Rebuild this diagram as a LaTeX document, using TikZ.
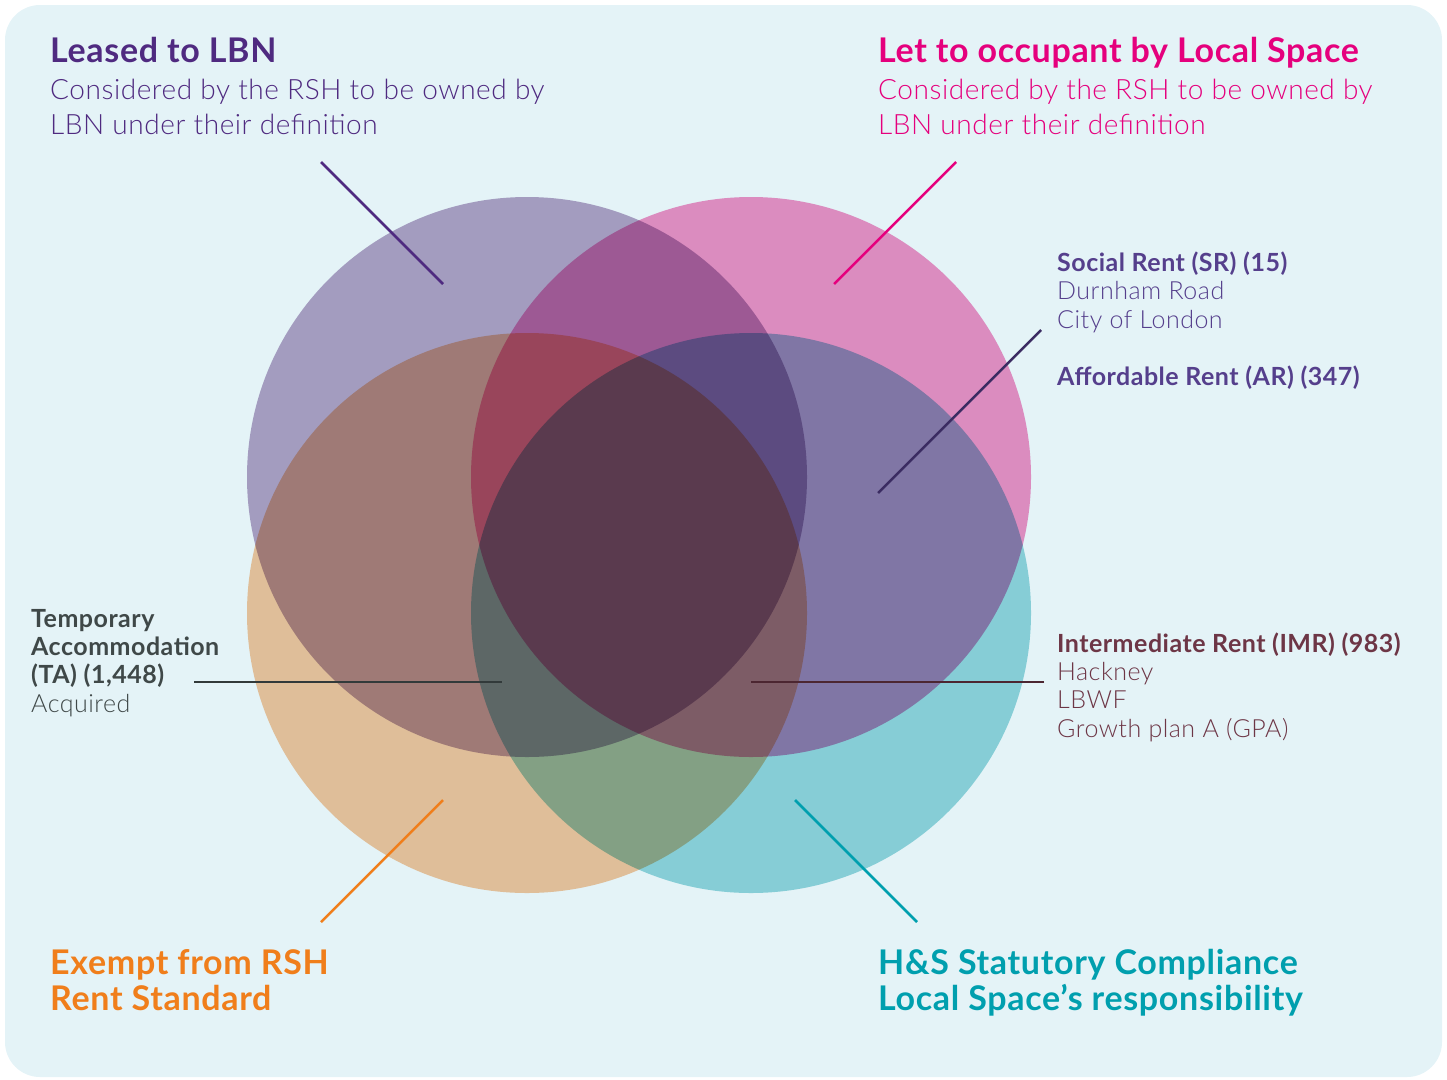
\documentclass[tikz,border=0pt]{standalone}
\usepackage{fontspec}
\setmainfont{Lato}[UprightFont=* Light, BoldFont=* Bold, LetterSpace=2]

\definecolor{bgblue}{HTML}{E4F3F7}
\definecolor{lbnfill}{HTML}{B7A4C6}
\definecolor{lsfill}{HTML}{F693C6}
\definecolor{rshfill}{HTML}{FAC89E}
\definecolor{hsfill}{HTML}{96D8DD}
\definecolor{lbnpurple}{HTML}{4F2A80}
\definecolor{lspink}{HTML}{E5007D}
\definecolor{srpurple}{HTML}{553F8C}
\definecolor{tagrey}{HTML}{3F4848}
\definecolor{imrred}{HTML}{6D3646}
\definecolor{rshorange}{HTML}{F07E1B}
\definecolor{hsteal}{HTML}{009FAE}

\begin{document}
\begin{tikzpicture}[x=1pt,y=-1pt,
    set/.style={circle,minimum size=560pt,inner sep=0pt,blend mode=multiply},
    txt/.style={anchor=base west,inner sep=0pt,align=left},
    head/.style={txt,font=\fontsize{34}{35.5}\selectfont\bfseries},
    body/.style={txt,font=\fontsize{28}{35}\selectfont},
    small/.style={txt,font=\fontsize{25}{28.2}\selectfont},
    pointer/.style={line width=2.5pt}]
        \useasboundingbox (0,0) rectangle (1447,1079);
        % Fondo
        \fill[bgblue,rounded corners=35pt] (5,5) rectangle (1442,1077);

        % Conjuntos
        \node[set,fill=lbnfill] (lbn) at (527,477) {};
        \node[set,fill=lsfill]  (ls)  at (751,477) {};
        \node[set,fill=rshfill] (rsh) at (527,613) {};
        \node[set,fill=hsfill]  (hs)  at (751,613) {};

        % Titulos (anclados en la ultima linea)
        \node[head,lbnpurple] (lbnhead) at (50,62) {Leased to LBN};
        \node[body,lbnpurple] (lbntext) at (50,134) {Considered by the RSH to be owned by\\LBN under their definition};
        \node[head,lspink] (lshead) at (878,62) {Let to occupant by Local Space};
        \node[body,lspink] (lstext) at (878,134) {Considered by the RSH to be owned by\\LBN under their definition};
        \node[head,rshorange] (rshhead) at (50,1010) {Exempt from RSH\\Rent Standard};
        \node[head,hsteal] (hshead) at (878,1010) {H\&S Statutory Compliance\\Local Space’s responsibility};

        % Tenencias
        \node[small,srpurple] (sr) at (1057,328) {\textbf{Social Rent (SR) (15)}\\Durnham Road\\City of London};
        \node[small,srpurple] (ar) at (1057,385) {\textbf{Affordable Rent (AR) (347)}};
        \node[small,tagrey] (ta) at (31,712) {\textbf{Temporary}\\\textbf{Accommodation}\\\textbf{(TA) (1,448)}\\Acquired};
        \node[small,imrred] (imr) at (1057,737) {\textbf{Intermediate Rent (IMR) (983)}\\Hackney\\LBWF\\Growth plan A (GPA)};

        % Lineas
        \coordinate (lbnA) at (321,162); \coordinate (lbnB) at (443,284);
        \coordinate (lsA) at (956,162);  \coordinate (lsB) at (834,284);
        \coordinate (srA) at (1041,330); \coordinate (srB) at (878,493);
        \coordinate (taA) at (194,682);  \coordinate (taB) at (502,682);
        \coordinate (imrA) at (1044,682); \coordinate (imrB) at (751,682);
        \coordinate (rshA) at (321,922); \coordinate (rshB) at (443,800);
        \coordinate (hsA) at (917,922);  \coordinate (hsB) at (795,800);
        \draw[pointer,lbnpurple] (lbnA) -- (lbnB);
        \draw[pointer,lspink] (lsA) -- (lsB);
        \draw[pointer,srpurple!70!black] (srA) -- (srB);
        \draw[pointer,tagrey!80!black] (taA) -- (taB);
        \draw[pointer,imrred!70!black] (imrA) -- (imrB);
        \draw[pointer,rshorange] (rshA) -- (rshB);
        \draw[pointer,hsteal] (hsA) -- (hsB);
\end{tikzpicture}
\end{document}
